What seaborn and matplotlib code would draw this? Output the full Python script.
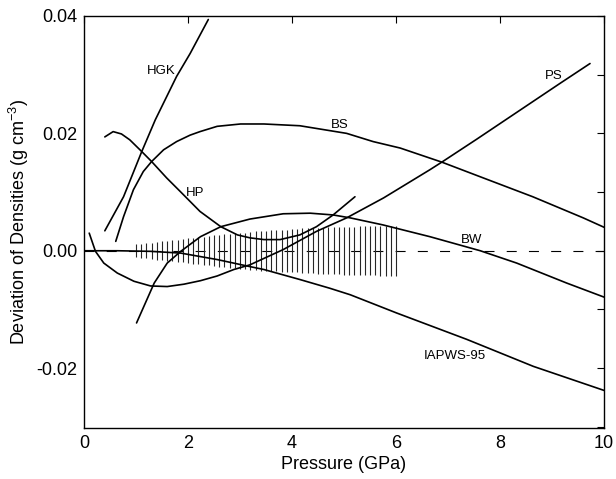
import numpy as np
import pandas as pd
import seaborn as sns
import matplotlib.pyplot as plt
from matplotlib.ticker import FixedLocator

# ---- data (pressure in GPa, deviation in g cm^-3) ----
hgk_p = [0.40, 0.76, 1.11, 1.37, 1.78, 2.04, 2.39]
hgk_d = [0.0034, 0.0092, 0.0169, 0.0223, 0.0297, 0.0336, 0.0394]

bs_p = [0.61, 0.76, 0.95, 1.14, 1.30, 1.53, 1.78, 2.04, 2.23, 2.56, 3.01,
        3.46, 4.15, 5.05, 5.56, 6.08, 6.88, 7.68, 8.63, 9.60, 10.0]
bs_d = [0.0016, 0.0058, 0.0104, 0.0135, 0.0152, 0.0172, 0.0186, 0.0197,
        0.0203, 0.0212, 0.0216, 0.0216, 0.0213, 0.0200, 0.0186, 0.0175,
        0.0151, 0.0124, 0.0092, 0.0056, 0.0040]

hp_p = [0.40, 0.56, 0.72, 0.88, 1.11, 1.30, 1.59, 1.85, 2.23, 2.63, 2.95,
        3.19, 3.46, 3.77, 4.15, 4.47, 4.79, 5.21]
hp_d = [0.0194, 0.0203, 0.0199, 0.0189, 0.0169, 0.0152, 0.0124, 0.0101,
        0.0067, 0.0041, 0.0027, 0.0022, 0.0019, 0.0019, 0.0027, 0.0041,
        0.0061, 0.0092]

ps_p = [0.10, 0.22, 0.38, 0.64, 0.96, 1.28, 1.60, 1.92, 2.24, 2.56, 2.88,
        3.19, 3.83, 4.47, 5.05, 5.76, 6.65, 6.88, 7.55, 8.51, 9.15, 9.73]
ps_d = [0.0030, -0.0001, -0.0021, -0.0038, -0.0052, -0.0060, -0.0061,
        -0.0057, -0.0051, -0.0043, -0.0032, -0.0024, 0.0002, 0.0033, 0.0056,
        0.0090, 0.0138, 0.0151, 0.0190, 0.0247, 0.0285, 0.0319]

bw_p = [1.01, 1.35, 1.60, 1.86, 2.24, 2.63, 3.19, 3.83, 4.35, 4.79, 5.12,
        5.75, 6.65, 7.62, 8.32, 9.28, 10.0]
bw_d = [-0.0123, -0.0055, -0.0021, -0.0001, 0.0024, 0.0041, 0.0054, 0.0063,
        0.0064, 0.0061, 0.0056, 0.0044, 0.0024, 0.0000, -0.0021, -0.0055,
        -0.0079]

iapws_p = [0.0, 0.64, 1.28, 1.86, 2.56, 3.19, 3.46, 4.15, 4.73, 5.12, 6.01,
           7.36, 8.64, 10.0]
iapws_d = [0.0, 0.0, -0.0001, -0.0004, -0.0015, -0.0027, -0.0032, -0.0049,
           -0.0064, -0.0075, -0.0106, -0.0151, -0.0197, -0.0238]

# uncertainty bars (half length) every 0.1 GPa from 1.0 to 6.0
bar_p = [round(1.0 + 0.1 * i, 1) for i in range(51)]
bar_half = [0.0011, 0.0012, 0.0013, 0.0014, 0.0015, 0.0016, 0.0017, 0.0018,
            0.0019, 0.0020, 0.0021, 0.0022, 0.0023, 0.0024, 0.0025, 0.0026,
            0.0027, 0.0028, 0.0029, 0.0030, 0.0031, 0.0031, 0.0032, 0.0033,
            0.0034, 0.0034, 0.0035, 0.0035, 0.0036, 0.0036, 0.0037, 0.0037,
            0.0038, 0.0038, 0.0038, 0.0039, 0.0039, 0.0040, 0.0040, 0.0040,
            0.0041, 0.0041, 0.0041, 0.0042, 0.0042, 0.0042, 0.0042, 0.0043,
            0.0043, 0.0043, 0.0043]

labels = ["HGK", "BS", "HP", "PS", "BW", "IAPWS-95"]
label_p = [1.48, 4.91, 2.13, 9.03, 7.46, 7.13]
label_d = [0.0306, 0.0214, 0.0098, 0.0298, 0.0019, -0.0180]

x_ticks = [0, 2, 4, 6, 8, 10]
y_ticks = [-0.02, 0.0, 0.02, 0.04]
y_tick_labels = ["-0.02", "0.00", "0.02", "0.04"]
y_minor = [-0.03, -0.01, 0.01, 0.03]

# ---- long form table for seaborn ----
curves = {
    "HGK": (hgk_p, hgk_d),
    "BS": (bs_p, bs_d),
    "HP": (hp_p, hp_d),
    "PS": (ps_p, ps_d),
    "BW": (bw_p, bw_d),
    "IAPWS-95": (iapws_p, iapws_d),
}
df = pd.concat(
    [pd.DataFrame({"P": p, "D": d, "model": name}) for name, (p, d) in curves.items()],
    ignore_index=True,
)

# ---- plot ----
sns.set_theme(style="white")
plt.rcParams["font.family"] = ["Liberation Sans", "DejaVu Sans"]
plt.rcParams["mathtext.fontset"] = "custom"
plt.rcParams["mathtext.rm"] = "Liberation Sans"

fig = plt.figure(figsize=(6.16, 4.79), dpi=100)
ax = fig.add_axes([0.1364, 0.1065, 0.8442, 0.8601])

# zero line (dashed)
ax.axhline(0, color="black", lw=0.8, dashes=(9, 11), zorder=1)

# uncertainty bars
ax.vlines(bar_p, [-h for h in bar_half], bar_half, color="0.15", lw=0.8, zorder=2)

sns.lineplot(data=df, x="P", y="D", hue="model", units="model", estimator=None,
             palette={m: "black" for m in labels}, linewidth=1.2,
             legend=False, ax=ax, zorder=3)

for txt, px, py in zip(labels, label_p, label_d):
    ax.text(px, py, txt, fontsize=9.5, ha="center", va="center", color="black")

ax.set_xlim(0, 10)
ax.set_ylim(-0.0302, 0.04)
ax.set_xticks(x_ticks)
ax.set_xticklabels([str(t) for t in x_ticks])
ax.yaxis.set_major_locator(FixedLocator(y_ticks))
ax.set_yticklabels(y_tick_labels)
ax.yaxis.set_minor_locator(FixedLocator(y_minor))

ax.tick_params(axis="both", which="both", direction="in", top=True, right=True,
               colors="black", labelsize=13, width=0.8)
ax.tick_params(axis="both", which="major", length=5, pad=5)
ax.tick_params(axis="y", which="minor", length=5)

for s in ax.spines.values():
    s.set_color("black")
    s.set_linewidth(1.0)

ax.set_xlabel("Pressure (GPa)", fontsize=13, color="black", labelpad=3)
ax.set_ylabel(r"Deviation of Densities (g cm$^{\mathregular{-3}}$)", fontsize=13,
              color="black", labelpad=4)

fig.savefig("out.png", dpi=100, facecolor="white")
